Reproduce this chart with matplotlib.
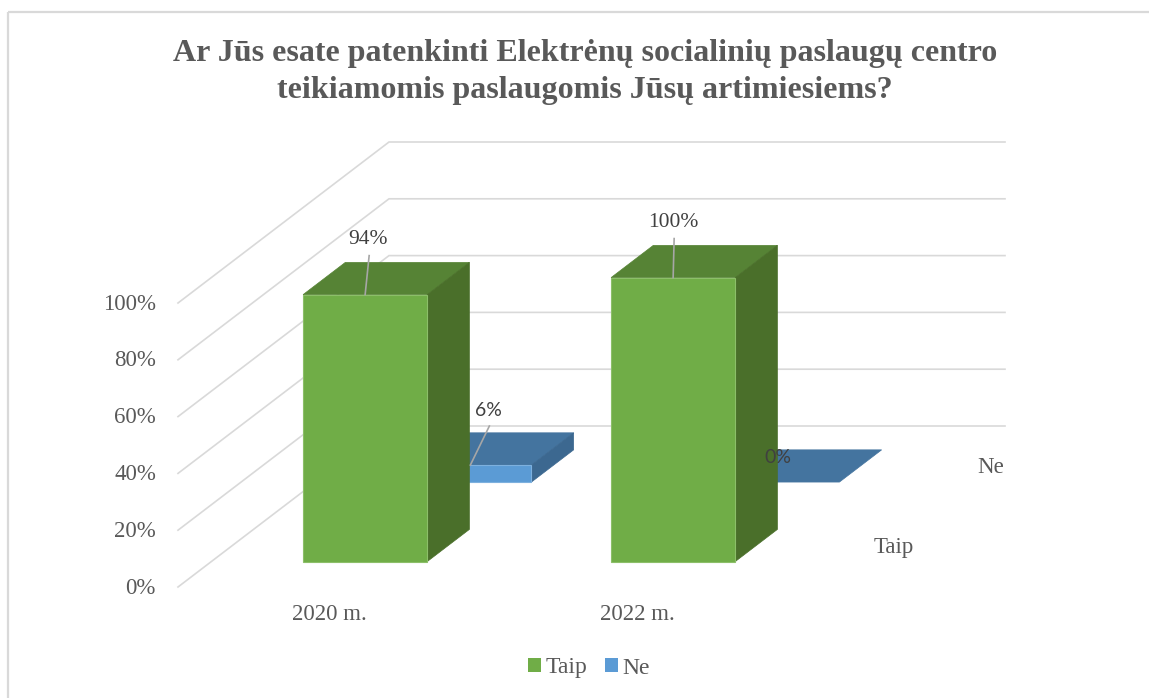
import matplotlib
matplotlib.use("Agg")
import matplotlib.pyplot as plt
from matplotlib.patches import Polygon, Rectangle, Patch

# ---- data ----
categories = ["2020 m.", "2022 m."]
series_names = ["Taip", "Ne"]
taip_values = [0.94, 1.00]
ne_values = [0.06, 0.00]
y_ticks = [0.0, 0.2, 0.4, 0.6, 0.8, 1.0]
y_tick_labels = ["0%", "20%", "40%", "60%", "80%", "100%"]
title = "Ar Jūs esate patenkinti Elektrėnų socialinių paslaugų centro\nteikiamomis paslaugomis Jūsų artimiesiems?"

# ---- styles ----
face_colors = {
    "Taip": ("#70AD47", "#568335", "#4A6F2A"),   # front, top, side
    "Ne":   ("#5B9BD5", "#44749F", "#3C6890"),
}
edge_colors = {"Taip": "#8CBF69", "Ne": "#7DB0DE"}
grid_color = "#D9D9D9"
text_gray = "#595959"
label_gray = "#404040"
serif = ["Liberation Serif", "DejaVu Serif"]
sans = ["Lato", "DejaVu Sans"]

W, H = 1149, 698
fig = plt.figure(figsize=(W / 100, H / 100), dpi=100)
ax = fig.add_axes([0, 0, 1, 1])
ax.set_xlim(0, W)
ax.set_ylim(H, 0)
ax.axis("off")

# projection layout (oblique 3D, with slight perspective offset for bars)
X0 = 178                   # front-left floor corner x
Y0_WALL, Y0_BAR = 587, 583
SLOT = 308                 # width per category
DX, DY = 211, 161          # full depth vector
VH = 284                   # pixels per 100%
BAR_L, BAR_R = 0.315, 0.718
ROW_FRONT, ROW_PITCH, BAR_DEPTH = 0.133, 0.494, 0.2


def P(c, d, v, y0=Y0_BAR):
    return (X0 + c * SLOT + d * DX, y0 - v * VH - d * DY)


ncat = len(categories)
# chart border
ax.add_patch(Rectangle((8, 12), W, H, fill=False, edgecolor=grid_color, lw=1.6, zorder=0))

# walls gridlines
for v, lab in zip(y_ticks, y_tick_labels):
    xa, ya = P(0, 0, v, Y0_WALL)
    xb, yb = P(0, 1, v, Y0_WALL)
    xc, yc = P(ncat, 1, v, Y0_WALL)
    ax.plot([xa, xb, xc], [ya, yb, yc], color=grid_color, lw=1.2, zorder=1,
            solid_joinstyle="miter")
    ax.text(xa - 22, ya + 1, lab, ha="right", va="center",
            fontsize=16.5, color=text_gray, family=serif)

# category labels
for i, c in enumerate(categories):
    x, y = P(i + 0.49, 0, 0, Y0_WALL)
    ax.text(x, y + 27, c, ha="center", va="center", fontsize=16.5, color=text_gray, family=serif)

# series (depth) labels
for j, s in enumerate(series_names):
    d = ROW_FRONT + j * ROW_PITCH + BAR_DEPTH / 2
    x, y = P(ncat, d, 0)
    ax.text(x + 30, y + 2, s, ha="left", va="center", fontsize=16.5, color=text_gray, family=serif)

all_values = {"Taip": taip_values, "Ne": ne_values}
z = 2
# draw back row first
for j in reversed(range(len(series_names))):
    s = series_names[j]
    front_c, top_c, side_c = face_colors[s]
    f = ROW_FRONT + j * ROW_PITCH
    b = f + BAR_DEPTH
    for i, v in enumerate(all_values[s]):
        l, r = i + BAR_L, i + BAR_R
        top = [P(l, f, v), P(r, f, v), P(r, b, v), P(l, b, v)]
        ax.add_patch(Polygon(top, closed=True, facecolor=top_c, edgecolor=top_c, lw=0.5, zorder=z))
        if v > 0:
            side = [P(r, f, 0), P(r, b, 0), P(r, b, v), P(r, f, v)]
            front = [P(l, f, 0), P(r, f, 0), P(r, f, v), P(l, f, v)]
            ax.add_patch(Polygon(side, closed=True, facecolor=side_c, edgecolor=side_c, lw=0.5, zorder=z))
            ax.add_patch(Polygon(front, closed=True, facecolor=front_c, edgecolor=edge_colors[s],
                                 lw=0.8, zorder=z + 0.1))
        z += 1

# data labels
for j, s in enumerate(series_names):
    f = ROW_FRONT + j * ROW_PITCH
    for i, v in enumerate(all_values[s]):
        cx, cy = P(i + (BAR_L + BAR_R) / 2, f, v)
        txt = f"{round(v * 100)}%"
        if s == "Taip":
            dx = 3 if i == 0 else 0
            ax.text(cx + dx, cy - 55, txt, ha="center", va="center", fontsize=15.5,
                    color=label_gray, family=serif, zorder=20)
            ax.plot([cx + dx + 1, cx], [cy - 39, cy], color="#A6A6A6", lw=1.2, zorder=20)
        else:
            if v > 0:
                ax.text(cx + 19, cy - 55, txt, ha="center", va="center", fontsize=14,
                        color=label_gray, family=sans, zorder=20)
                ax.plot([cx + 20, cx + 1], [cy - 39, cy], color="#A6A6A6", lw=1.2, zorder=20)
            else:
                ax.text(cx, cy - 25, txt, ha="center", va="center", fontsize=14,
                        color=label_gray, family=sans, zorder=20)

# title
ax.text(585, 72, title, ha="center", va="center", fontsize=23, fontweight="bold",
        color=text_gray, family=serif, linespacing=1.37)

# legend
handles = [Patch(facecolor=face_colors[s][0], edgecolor="none", label=s) for s in series_names]
leg = fig.legend(handles=handles, loc="center", bbox_to_anchor=(589 / W, 1 - 668 / H),
                 ncol=2, frameon=False, handlelength=0.55, handleheight=0.55,
                 handletextpad=0.2, columnspacing=0.75,
                 prop={"family": serif, "size": 17})
for t in leg.get_texts():
    t.set_color(text_gray)

fig.savefig("out.png", dpi=100)
